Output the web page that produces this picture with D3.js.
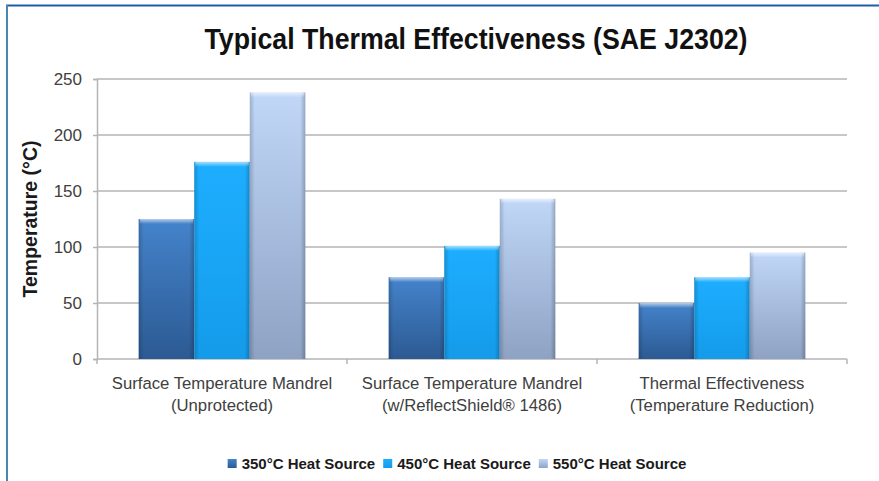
<!DOCTYPE html>
<html>
<head>
<meta charset="utf-8">
<script src="https://cdn.jsdelivr.net/npm/d3@7"></script>
<style>
  html, body { margin: 0; padding: 0; background: #fff; }
  svg { display: block; font-family: "Liberation Sans", Arial, sans-serif; }
</style>
</head>
<body>
<div id="chart"></div>
<script>
// chart values
const CATEGORIES = ["Unprotected", "ReflectShield", "Reduction"];
const CATEGORY_LINES = [
  ["Surface Temperature Mandrel", "(Unprotected)"],
  ["Surface Temperature Mandrel", "(w/ReflectShield\u00AE 1486)"],
  ["Thermal Effectiveness", "(Temperature Reduction)"]
];
const SERIES = ["350°C Heat Source", "450°C Heat Source", "550°C Heat Source"];
const HEAT_350 = [125, 73, 50];
const HEAT_450 = [176, 101, 73];
const HEAT_550 = [238, 143, 95];
const Y_TICKS = [0, 50, 100, 150, 200, 250];

const WIDTH = 879;
const HEIGHT = 481;
const MARGIN = { TOP: 79, RIGHT: 32, BOTTOM: 122, LEFT: 97 };
const PLOT_W = WIDTH - MARGIN.LEFT - MARGIN.RIGHT;
const PLOT_H = HEIGHT - MARGIN.TOP - MARGIN.BOTTOM;

const SERIES_VALUES = [HEAT_350, HEAT_450, HEAT_550];
const DATA = CATEGORIES.map((c, i) => ({
  category: c,
  values: SERIES.map((s, j) => ({ series: s, value: SERIES_VALUES[j][i] }))
}));

// colours: [top, bottom]
const FILLS = [
  ["#4483cb", "#2c5a93"],
  ["#1eaeff", "#149bea"],
  ["#c0d7f8", "#8ea2c4"]
];

const SVG = d3.select("#chart").append("svg")
  .attr("width", WIDTH)
  .attr("height", HEIGHT);

const DEFS = SVG.append("defs");
FILLS.forEach((f, i) => {
  const g = DEFS.append("linearGradient")
    .attr("id", "fill-" + i)
    .attr("x1", 0).attr("y1", 0).attr("x2", 0).attr("y2", 1);
  g.append("stop").attr("offset", "0%").attr("stop-color", f[0]);
  g.append("stop").attr("offset", "100%").attr("stop-color", f[1]);
});
const SIDES = DEFS.append("linearGradient").attr("id", "sides")
  .attr("x1", 0).attr("y1", 0).attr("x2", 1).attr("y2", 0);
SIDES.append("stop").attr("offset", "0%").attr("stop-color", "#000").attr("stop-opacity", 0.18);
SIDES.append("stop").attr("offset", "9%").attr("stop-color", "#000").attr("stop-opacity", 0);
SIDES.append("stop").attr("offset", "91%").attr("stop-color", "#000").attr("stop-opacity", 0);
SIDES.append("stop").attr("offset", "100%").attr("stop-color", "#000").attr("stop-opacity", 0.22);
const SHINE = DEFS.append("linearGradient").attr("id", "shine")
  .attr("x1", 0).attr("y1", 0).attr("x2", 0).attr("y2", 1);
SHINE.append("stop").attr("offset", "0%").attr("stop-color", "#fff").attr("stop-opacity", 0.6);
SHINE.append("stop").attr("offset", "100%").attr("stop-color", "#fff").attr("stop-opacity", 0);

// frame
SVG.append("line")
  .attr("x1", 6).attr("x2", WIDTH).attr("y1", 5.5).attr("y2", 5.5)
  .attr("stroke", "#1f5ea8").attr("stroke-width", 2);
SVG.append("line")
  .attr("x1", 7).attr("x2", 7).attr("y1", 5).attr("y2", HEIGHT)
  .attr("stroke", "#4b86b3").attr("stroke-width", 2);

SVG.append("text")
  .attr("x", 476)
  .attr("y", 49)
  .attr("text-anchor", "middle")
  .attr("textLength", 543)
  .attr("lengthAdjust", "spacingAndGlyphs")
  .style("font-weight", "bold")
  .style("font-size", "30px")
  .style("fill", "#111")
  .text("Typical Thermal Effectiveness (SAE J2302)");

const CHART = SVG.append("g")
  .attr("transform", "translate(" + MARGIN.LEFT + "," + MARGIN.TOP + ")");

const X0 = d3.scaleBand().domain(CATEGORIES).range([0, PLOT_W]).padding(0);
const X1 = d3.scaleBand().domain(SERIES).range([0, X0.bandwidth()])
  .paddingInner(0).paddingOuter(0.75);
const Y = d3.scaleLinear().domain([0, 250]).range([PLOT_H, 0]);

// grid
CHART.append("g")
  .selectAll("line")
  .data(Y_TICKS.filter((t) => t > 0))
  .enter()
  .append("line")
  .attr("x1", 0).attr("x2", PLOT_W)
  .attr("y1", (d) => Y(d)).attr("y2", (d) => Y(d))
  .attr("stroke", "#b4b4b4").attr("stroke-width", 1.5);

// y axis
const Y_AXIS = d3.axisLeft(Y).tickValues(Y_TICKS).tickSize(4).tickPadding(11);
const YG = CHART.append("g").call(Y_AXIS);
YG.select(".domain").attr("stroke", "#b4b4b4").attr("stroke-width", 1.5);
YG.selectAll(".tick line").attr("stroke", "#b4b4b4").attr("stroke-width", 1.5);
YG.selectAll(".tick text")
  .style("font-family", "'Liberation Sans', sans-serif")
  .style("font-size", "17px")
  .style("fill", "#404040");

// x axis
const XG = CHART.append("g").attr("transform", "translate(0," + PLOT_H + ")");
XG.append("line")
  .attr("x1", 0).attr("x2", PLOT_W)
  .attr("stroke", "#b4b4b4").attr("stroke-width", 1.5);
XG.selectAll(".xtick")
  .data(d3.range(CATEGORIES.length + 1))
  .enter()
  .append("line")
  .attr("class", "xtick")
  .attr("x1", (d) => d * X0.step()).attr("x2", (d) => d * X0.step())
  .attr("y1", 0).attr("y2", 5)
  .attr("stroke", "#b4b4b4").attr("stroke-width", 1.5);

const XL = XG.selectAll(".xlabel")
  .data(CATEGORIES)
  .enter()
  .append("text")
  .attr("class", "xlabel")
  .attr("text-anchor", "middle")
  .attr("transform", (d) => "translate(" + (X0(d) + X0.bandwidth() / 2) + ",0)")
  .style("font-size", "16.7px")
  .style("fill", "#404040");
XL.each(function (d, i) {
  CATEGORY_LINES[i].forEach((line, k) => {
    d3.select(this).append("tspan")
      .attr("x", 0)
      .attr("y", 30 + k * 22)
      .text(line);
  });
});

// bars
const GROUPS = CHART.selectAll(".group")
  .data(DATA)
  .enter()
  .append("g")
  .attr("class", "group")
  .attr("transform", (d) => "translate(" + X0(d.category) + ",0)");

const BAR = GROUPS.selectAll(".bar")
  .data((d) => d.values)
  .enter()
  .append("g")
  .attr("class", "bar");
BAR.append("rect")
  .attr("x", (d) => X1(d.series))
  .attr("y", (d) => Y(d.value))
  .attr("width", X1.bandwidth())
  .attr("height", (d) => PLOT_H - Y(d.value))
  .attr("fill", (d) => "url(#fill-" + SERIES.indexOf(d.series) + ")");
BAR.append("rect")
  .attr("x", (d) => X1(d.series))
  .attr("y", (d) => Y(d.value))
  .attr("width", X1.bandwidth())
  .attr("height", (d) => PLOT_H - Y(d.value))
  .attr("fill", "url(#sides)");
BAR.append("rect")
  .attr("x", (d) => X1(d.series) + 1)
  .attr("y", (d) => Y(d.value))
  .attr("width", X1.bandwidth() - 2)
  .attr("height", 5)
  .attr("fill", "url(#shine)");

// y label
SVG.append("text")
  .attr("transform", "translate(37," + (MARGIN.TOP + PLOT_H / 2) + ") rotate(-90)")
  .attr("text-anchor", "middle")
  .style("font-weight", "bold")
  .style("font-size", "19.5px")
  .style("fill", "#1a1a1a")
  .text("Temperature (°C)");

// legend
const LEGEND = SVG.append("g");
const LEGEND_ITEMS = LEGEND.selectAll(".legend-item")
  .data(SERIES)
  .enter()
  .append("g")
  .attr("class", "legend-item");
LEGEND_ITEMS.append("rect")
  .attr("y", -5)
  .attr("width", 9)
  .attr("height", 9)
  .attr("fill", (d, i) => "url(#fill-" + i + ")");
LEGEND_ITEMS.append("text")
  .attr("x", 14)
  .attr("y", 5)
  .style("font-weight", "bold")
  .style("font-size", "15px")
  .style("fill", "#1a1a1a")
  .text((d) => d);
let legendX = 0;
const LEGEND_GAP = 8;
LEGEND_ITEMS.each(function () {
  const w = this.getBBox().width;
  d3.select(this).attr("transform", "translate(" + legendX + ",0)");
  legendX += w + LEGEND_GAP;
});
const LEGEND_W = legendX - LEGEND_GAP;
LEGEND.attr("transform", "translate(" + (457 - LEGEND_W / 2) + ",464)");
</script>
</body>
</html>
